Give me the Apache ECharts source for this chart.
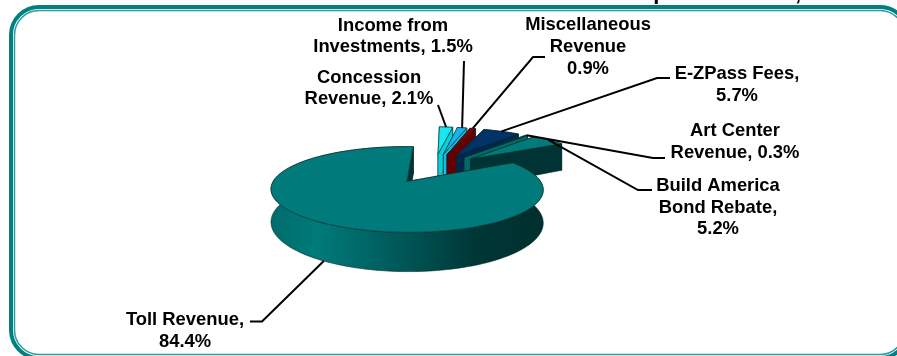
<!DOCTYPE html>
<html>
<head>
<meta charset="utf-8">
<style>html,body{margin:0;padding:0;background:#fff}#chart{width:897px;height:356px}</style>
<script src="https://cdn.jsdelivr.net/npm/echarts@6/dist/echarts.min.js"></script>
</head>
<body>
<div id="chart"></div>
<script>
// Revenue shares, in drawing order: back slices first, the large toll slice last.
const categories = ['Concession Revenue', 'Income from Investments', 'Miscellaneous Revenue',
  'E-ZPass Fees', 'Art Center Revenue', 'Build America Bond Rebate', 'Toll Revenue'];
const values = [2.1, 1.5, 0.9, 5.7, 0.3, 5.2, 84.4];
const labelTemplates = ['Concession\nRevenue, {v}%', 'Income from\nInvestments, {v}%', 'Miscellaneous\nRevenue\n{v}%',
  'E-ZPass Fees,\n{v}%', 'Art Center\nRevenue, {v}%', 'Build America\nBond Rebate,\n{v}%', 'Toll Revenue,\n{v}%'];

// Slice colours.
const topColors = ['#18e8f2', '#16b4ee', '#7c0000', '#003366', '#005a5a', '#007a7a', '#007a7a'];
const wallColors = ['#0bcfd8', '#14bfe0', '#660000', '#00264d', '#006a6a', '#003333', '#003333'];
const tollWallStops = [[0, '#006c6c'], [0.17, '#007a7a'], [0.55, '#004f4f'], [0.75, '#003636'], [1, '#002f2f']];

// Label centres and leader elbows (the leader runs slice -> elbow -> end).
const labelCenters = [[369, 88.5], [393, 36.5], [588, 47], [737, 85], [735, 142], [718, 207.5], [185, 331]];
const leaderElbows = [[438, 105], [464, 61], [533, 57], [657, 78], [653, 158], [638, 190], [262, 321.5]];
const leaderEnds = [[438, 105], [464, 61], [545, 57], [670, 78], [665, 158], [652, 190], [250, 321.5]];

// Perspective view of the pie.
const view = { cx: 433.8, cy: 168, rx: 125.6, ry: 36.5, shear: -6, depth: 0.175, thickness: 30, explode: 0.41 };
const firstAngle = 86.1;

const total = values.reduce((a, b) => a + b, 0);
const rad = d => d * Math.PI / 180;

// Clockwise angular span of slice i, in degrees.
function sliceSpan(i) {
  let start = firstAngle;
  for (let k = 0; k < i; k++) start -= values[k] / total * 360;
  return [start, start - values[i] / total * 360];
}

// Projects a point of the pie's plane to the screen; drop pushes it down to the base.
function project(u, v, drop) {
  const w = 1 + view.depth * v;
  return [
    view.cx + (view.rx * u + view.shear * v) / w,
    view.cy - view.ry * v / w + (drop ? view.thickness / w : 0)
  ];
}

function sliceGeometry(i) {
  const [a0, a1] = sliceSpan(i);
  const mid = rad((a0 + a1) / 2);
  const ou = view.explode * Math.cos(mid), ov = view.explode * Math.sin(mid);
  const rim = drop => {
    const pts = [];
    const n = Math.max(2, Math.ceil((a0 - a1) / 2));
    for (let s = 0; s <= n; s++) {
      const t = rad(a0 + (a1 - a0) * s / n);
      pts.push(project(ou + Math.cos(t), ov + Math.sin(t), drop));
    }
    return pts;
  };
  return {
    apexTop: project(ou, ov, false), apexBase: project(ou, ov, true),
    rimTop: rim(false), rimBase: rim(true),
    midTop: project(ou + Math.cos(mid), ov + Math.sin(mid), false),
    midBase: project(ou + Math.cos(mid), ov + Math.sin(mid), true)
  };
}

const isToll = i => categories[i] === 'Toll Revenue';
const edgeStyle = { stroke: '#062a2a', lineWidth: 0.6, lineJoin: 'round' };

function renderSlice(params, api) {
  const i = params.dataIndex;
  api.value(0);
  const g = sliceGeometry(i);
  const last = g.rimTop.length - 1;
  const poly = (points, fill) => ({ type: 'polygon', shape: { points }, style: Object.assign({ fill }, edgeStyle) });
  const wallFill = isToll(i)
    ? new echarts.graphic.LinearGradient(0, 0, 1, 0, tollWallStops.map(([offset, color]) => ({ offset, color })))
    : wallColors[i];
  return {
    type: 'group',
    children: [
      poly([g.apexTop, g.rimTop[0], g.rimBase[0], g.apexBase], wallColors[i]),
      poly(g.rimTop.concat(g.rimBase.slice().reverse()), wallFill),
      poly([g.apexTop, g.rimTop[last], g.rimBase[last], g.apexBase], wallColors[i]),
      poly([g.apexTop].concat(g.rimTop), topColors[i])
    ]
  };
}

function renderLabel(params, api) {
  const i = params.dataIndex;
  const value = api.value(0);
  const g = sliceGeometry(i);
  const anchor = isToll(i) ? g.midBase : g.midTop;
  return {
    type: 'group',
    children: [
      {
        type: 'polyline',
        shape: { points: [anchor, leaderElbows[i], leaderEnds[i]] },
        style: { stroke: '#000', lineWidth: 2, fill: null }
      },
      {
        type: 'text',
        style: {
          text: labelTemplates[i].replace('{v}', value.toFixed(1)),
          x: labelCenters[i][0], y: labelCenters[i][1],
          align: 'center', verticalAlign: 'middle', lineHeight: 21.7,
          font: 'bold 18.4px "Liberation Sans", Arial, sans-serif', fill: '#000'
        }
      }
    ]
  };
}

const seriesData = values.map((v, i) => ({ name: categories[i], value: [v] }));
const chart = echarts.init(document.getElementById('chart'), null, { renderer: 'canvas' });
chart.setOption({
  backgroundColor: '#fff',
  animation: false,
  graphic: [
    // Double rounded frame, running past the canvas on the right and at the bottom.
    { type: 'rect', shape: { x: 11, y: 7, width: 897, height: 351, r: 28 }, style: { fill: null, stroke: '#008080', lineWidth: 4 } },
    { type: 'rect', shape: { x: 14.5, y: 10.5, width: 890, height: 344, r: 24.5 }, style: { fill: null, stroke: '#2a9d9d', lineWidth: 1.5 } },
    // Descenders of the heading that sits above the frame.
    { type: 'text', style: { text: 'p', x: 660, y: 4.3, align: 'center', verticalAlign: 'bottom', font: 'bold 22px "Liberation Sans", Arial, sans-serif', fill: '#000' } },
    { type: 'text', style: { text: ',', x: 798, y: 4.8, align: 'center', verticalAlign: 'bottom', font: 'bold 22px "Liberation Sans", Arial, sans-serif', fill: '#000' } }
  ],
  series: [
    { type: 'custom', coordinateSystem: 'none', renderItem: renderSlice, data: seriesData, z: 2, silent: true },
    { type: 'custom', coordinateSystem: 'none', renderItem: renderLabel, data: seriesData, z: 3, silent: true }
  ]
});
</script>
</body>
</html>
